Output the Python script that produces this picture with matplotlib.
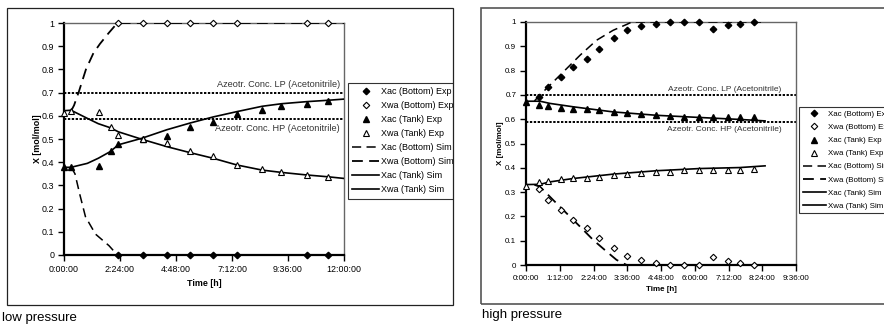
import matplotlib
matplotlib.use("Agg")
import matplotlib.pyplot as plt
from matplotlib.patches import Rectangle
from matplotlib.ticker import FuncFormatter, FixedLocator
import matplotlib.transforms as mtransforms

plt.rcParams['font.family'] = ['Liberation Sans', 'DejaVu Sans']

# ---------------- low pressure data (time in hours) ----------------
lp_t_tank_exp = [0, 0.3, 1.48, 2.0, 2.33, 3.37, 4.41, 5.41, 6.39, 7.41, 8.49, 9.32, 10.4, 11.33]
lp_xac_tank_exp = [0.378, 0.379, 0.382, 0.448, 0.478, 0.50, 0.511, 0.55, 0.572, 0.609, 0.626, 0.641, 0.652, 0.662]
lp_xwa_tank_exp = [0.612, 0.62, 0.616, 0.55, 0.517, 0.50, 0.483, 0.447, 0.428, 0.39, 0.371, 0.359, 0.346, 0.338]

lp_t_bottom_exp = [2.33, 3.37, 4.41, 5.41, 6.39, 7.41, 10.4, 11.33]
lp_xac_bottom_exp = [0, 0, 0, 0, 0, 0, 0, 0]
lp_xwa_bottom_exp = [1, 1, 1, 1, 1, 1, 1, 1]

lp_t_tank_sim = [0, 0.3, 1.0, 1.47, 1.97, 2.33, 3.33, 4.41, 5.41, 6.39, 7.41, 8.49, 9.32, 10.4, 11.33, 12]
lp_xac_tank_sim = [0.378, 0.378, 0.395, 0.417, 0.445, 0.475, 0.503, 0.54, 0.569, 0.595, 0.618, 0.641, 0.652, 0.661, 0.667, 0.672]
lp_xwa_tank_sim = [0.622, 0.624, 0.589, 0.566, 0.549, 0.531, 0.499, 0.467, 0.441, 0.417, 0.388, 0.366, 0.356, 0.345, 0.337, 0.33]

lp_t_xac_bottom_sim = [0.3, 0.47, 0.68, 0.92, 1.35, 1.93, 2.18, 2.33, 12]
lp_xac_bottom_sim = [0.38, 0.35, 0.26, 0.165, 0.09, 0.04, 0.012, 0, 0]
lp_t_xwa_bottom_sim = [0.3, 0.43, 0.64, 0.94, 1.26, 1.54, 1.9, 2.2, 2.33, 12]
lp_xwa_bottom_sim = [0.62, 0.645, 0.705, 0.80, 0.87, 0.91, 0.955, 0.99, 1.0, 1.0]

# ---------------- high pressure data ----------------
hp_t_exp = [0, 0.474, 0.794, 1.256, 1.683, 2.169, 2.584, 3.129, 3.603, 4.10,
            4.61, 5.13, 5.63, 6.15, 6.65, 7.17, 7.60, 8.12]
hp_xac_tank_exp = [0.671, 0.658, 0.653, 0.645, 0.642, 0.64, 0.636, 0.63, 0.626, 0.622,
                   0.617, 0.613, 0.61, 0.61, 0.61, 0.61, 0.609, 0.607]
hp_xwa_tank_exp = [0.327, 0.342, 0.345, 0.353, 0.356, 0.359, 0.363, 0.37, 0.373, 0.377,
                   0.381, 0.384, 0.39, 0.39, 0.39, 0.39, 0.39, 0.395]
hp_t_bottom_exp = hp_t_exp[1:]
hp_xac_bottom_exp = [0.692, 0.733, 0.774, 0.815, 0.849, 0.890, 0.936, 0.966, 0.985, 0.993,
                     1.0, 1.0, 1.0, 0.97, 0.986, 0.99, 1.0]
hp_xwa_bottom_exp = [0.311, 0.267, 0.226, 0.185, 0.151, 0.110, 0.068, 0.037, 0.021, 0.007,
                     0, 0, 0, 0.032, 0.016, 0.01, 0]

hp_t_tank_sim = [0, 0.5, 0.85, 1.68, 3.1, 4.65, 6.19, 7.6, 8.5]
hp_xac_tank_sim = [0.674, 0.674, 0.665, 0.651, 0.630, 0.616, 0.607, 0.599, 0.593]
hp_xwa_tank_sim = [0.331, 0.332, 0.342, 0.356, 0.374, 0.388, 0.397, 0.401, 0.408]

hp_t_xac_bottom_sim = [0.3, 0.5, 0.85, 1.33, 1.92, 2.51, 3.1, 3.58, 3.76, 8.5]
hp_xac_bottom_sim = [0.675, 0.70, 0.74, 0.795, 0.863, 0.925, 0.966, 0.99, 1.0, 1.0]
hp_t_xwa_bottom_sim = [0.3, 0.5, 0.97, 1.45, 1.92, 2.39, 2.87, 3.22, 3.58, 8.5]
hp_xwa_bottom_sim = [0.33, 0.322, 0.267, 0.212, 0.158, 0.103, 0.055, 0.021, 0, 0]

azeo_lp = 0.70
azeo_hp = 0.587

lp_xticks = [0, 2.4, 4.8, 7.2, 9.6, 12]
hp_xticks = [0, 1.2, 2.4, 3.6, 4.8, 6.0, 7.2, 8.4, 9.6]
yticks = [0, 0.1, 0.2, 0.3, 0.4, 0.5, 0.6, 0.7, 0.8, 0.9, 1.0]

legend_labels = ['Xac (Bottom) Exp', 'Xwa (Bottom) Exp', 'Xac (Tank) Exp', 'Xwa (Tank) Exp',
                 'Xac (Bottom) Sim', 'Xwa (Bottom) Sim', 'Xac (Tank) Sim', 'Xwa (Tank) Sim']


def hms(v, pos=None):
    minutes = int(round(v * 60))
    return f"{minutes // 60}:{minutes % 60:02d}:00"


W, H = 884, 324
fig = plt.figure(figsize=(W / 100, H / 100), dpi=100)


def px_axes(x0, y0, x1, y1):
    return fig.add_axes([x0 / W, 1 - y1 / H, (x1 - x0) / W, (y1 - y0) / H])


dash = (0, (6, 3.5))
dots = (0, (1.2, 0.8))


def draw_panel(ax, fs, t_sim, ac_sim, wa_sim, t_acb, acb_sim, t_wab, wab_sim,
               t_tank, ac_tank, wa_tank, t_bot, ac_bot, wa_bot, xmax, xticks,
               lbl_x, lp_off, hp_off, lbl_fs):
    ax.axhline(azeo_lp, color='black', lw=1.4, linestyle=dots, zorder=2)
    ax.axhline(azeo_hp, color='black', lw=1.4, linestyle=dots, zorder=2)
    h_acb, = ax.plot(t_acb, acb_sim, color='black', lw=1.1, linestyle=dash, zorder=3)
    h_wab, = ax.plot(t_wab, wab_sim, color='black', lw=1.3, linestyle=dash, zorder=3)
    h_act, = ax.plot(t_sim, ac_sim, color='black', lw=1.2, zorder=3)
    h_wat, = ax.plot(t_sim, wa_sim, color='black', lw=1.2, zorder=3)
    m1, = ax.plot(t_bot, ac_bot, 'D', color='black', ms=3.3, lw=0, clip_on=False, zorder=4)
    m2, = ax.plot(t_bot, wa_bot, 'D', mfc='white', mec='black', mew=0.8, ms=3.3, lw=0,
                  clip_on=False, zorder=4)
    m3, = ax.plot(t_tank, ac_tank, '^', color='black', ms=4.3, lw=0, clip_on=False, zorder=4)
    m4, = ax.plot(t_tank, wa_tank, '^', mfc='white', mec='black', mew=0.8, ms=4.3, lw=0,
                  clip_on=False, zorder=4)

    tr = mtransforms.blended_transform_factory(ax.transAxes, ax.transData)
    ax.annotate('Azeotr. Conc. LP (Acetonitrile)', xy=(lbl_x, azeo_lp), xycoords=tr,
                xytext=(0, lp_off), textcoords='offset pixels', ha='right', va='bottom',
                fontsize=lbl_fs, color='#333333')
    ax.annotate('Azeotr. Conc. HP (Acetonitrile)', xy=(lbl_x, azeo_hp), xycoords=tr,
                xytext=(0, -hp_off), textcoords='offset pixels', ha='right', va='top',
                fontsize=lbl_fs, color='#333333')

    ax.set_xlim(0, xmax)
    ax.set_ylim(0, 1)
    ax.xaxis.set_major_locator(FixedLocator(xticks))
    ax.xaxis.set_major_formatter(FuncFormatter(hms))
    ax.yaxis.set_major_locator(FixedLocator(yticks))
    ax.yaxis.set_major_formatter(FuncFormatter(lambda v, p: f"{v:g}"))
    ax.tick_params(direction='out', length=4, width=1, labelsize=fs, pad=3)
    for s in ['left', 'bottom']:
        ax.spines[s].set_linewidth(1.6)
    for s in ['top', 'right']:
        ax.spines[s].set_linewidth(1.0)
        ax.spines[s].set_color('#666666')
    ax.set_xlabel('Time [h]', fontweight='bold', fontsize=fs)
    ax.set_ylabel('X [mol/mol]', fontweight='bold', fontsize=fs)
    return [m1, m2, m3, m4, h_acb, h_wab, h_act, h_wat]


def add_legend(ax, handles, x, y, fs, spacing):
    leg = ax.legend(handles, legend_labels, loc='upper left',
                    bbox_to_anchor=(x / W, 1 - y / H), bbox_transform=fig.transFigure,
                    fontsize=fs, frameon=True, fancybox=False, edgecolor='black',
                    borderpad=0.45, labelspacing=spacing, handlelength=3.0, handletextpad=0.25,
                    borderaxespad=0)
    leg.get_frame().set_linewidth(0.8)
    return leg


# left panel: low pressure
ax1 = px_axes(64, 23, 344, 255)
handles = draw_panel(ax1, 6.4, lp_t_tank_sim, lp_xac_tank_sim, lp_xwa_tank_sim,
                     lp_t_xac_bottom_sim, lp_xac_bottom_sim, lp_t_xwa_bottom_sim, lp_xwa_bottom_sim,
                     lp_t_tank_exp, lp_xac_tank_exp, lp_xwa_tank_exp,
                     lp_t_bottom_exp, lp_xac_bottom_exp, lp_xwa_bottom_exp,
                     12, lp_xticks, 0.986, 4, 5, 6.6)
ax1.xaxis.set_label_coords(0.5, -0.105)
ax1.yaxis.set_label_coords(-0.08, 0.5)
add_legend(ax1, handles, 348, 83, 6.5, 0.56)

# right panel: high pressure
ax2 = px_axes(526, 22, 796, 265)
handles = draw_panel(ax2, 5.8, hp_t_tank_sim, hp_xac_tank_sim, hp_xwa_tank_sim,
                     hp_t_xac_bottom_sim, hp_xac_bottom_sim, hp_t_xwa_bottom_sim, hp_xwa_bottom_sim,
                     hp_t_exp, hp_xac_tank_exp, hp_xwa_tank_exp,
                     hp_t_bottom_exp, hp_xac_bottom_exp, hp_xwa_bottom_exp,
                     9.6, hp_xticks, 0.947, 2, 4, 6.0)
ax2.xaxis.set_label_coords(0.5, -0.088)
ax2.yaxis.set_label_coords(-0.08, 0.5)
add_legend(ax2, handles, 799, 107, 5.7, 0.7)

# outer chart frames
fig.add_artist(Rectangle((454 / W, 0), 26 / W, 1, transform=fig.transFigure,
                         facecolor='white', edgecolor='none', zorder=5))
fig.add_artist(Rectangle((7 / W, 1 - 305 / H), 446 / W, 297 / H, transform=fig.transFigure,
                         fill=False, edgecolor='#222222', lw=0.9, zorder=6))
fig.add_artist(Rectangle((481 / W, 1 - 304 / H), 500 / W, 296 / H, transform=fig.transFigure,
                         fill=False, edgecolor='#555555', lw=1.2, zorder=6))

fig.text(2 / W, 1 - 318 / H, 'low pressure', fontsize=9.5, va='center', ha='left')
fig.text(482 / W, 1 - 315 / H, 'high pressure', fontsize=9.5, va='center', ha='left')

fig.savefig('out.png', dpi=100)
